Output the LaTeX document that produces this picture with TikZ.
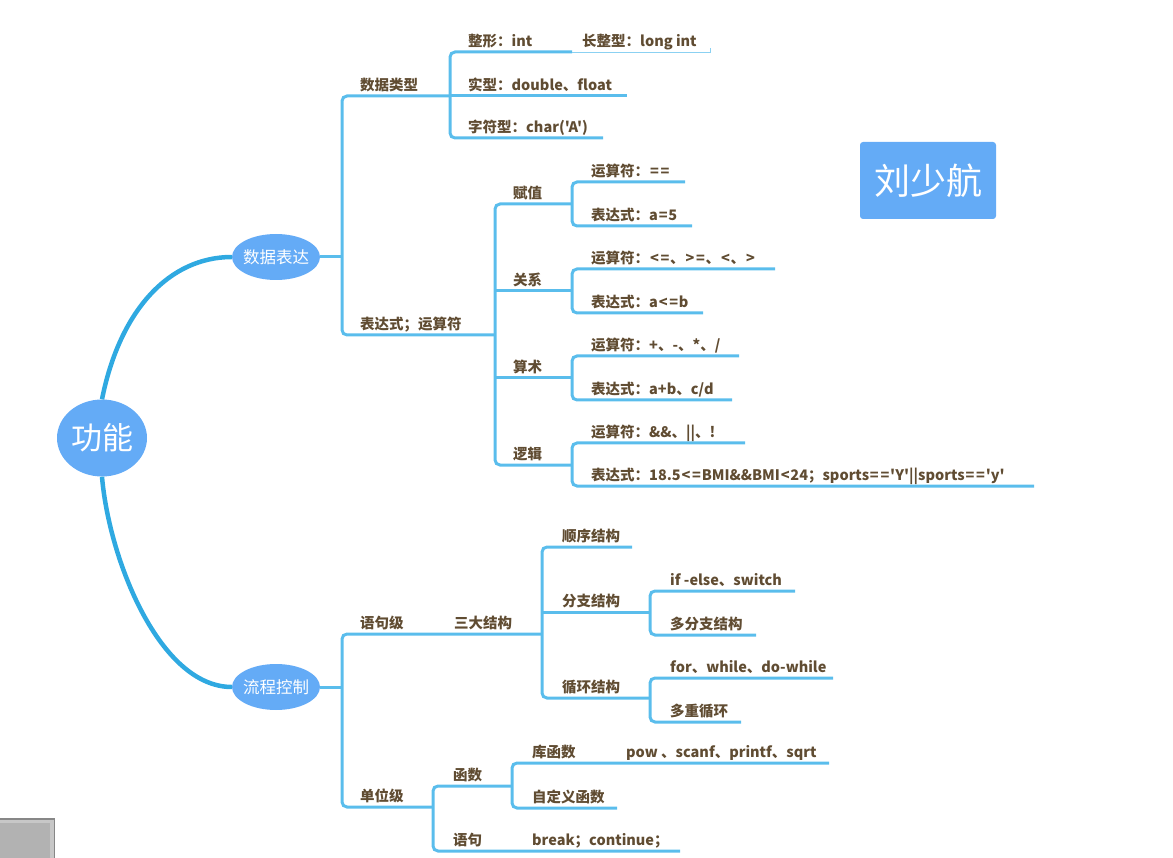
\documentclass[tikz,border=0pt]{standalone}
\usepackage{fontspec}
\newfontfamily\cjk{Noto Sans CJK SC}
\usetikzlibrary{shapes.geometric}
\definecolor{nodeblue}{RGB}{100,171,246}
\definecolor{lc}{RGB}{90,189,236}
\definecolor{rootc}{RGB}{47,169,225}
\definecolor{txtc}{RGB}{96,76,50}
\newcommand\wsy[1]{\makebox[10.5pt][c]{#1}}
\tikzset{
  lbl/.style={anchor=base west, inner sep=0pt, yshift=-1.5pt, text=txtc, font=\cjk\bfseries\fontsize{14.5}{16}\selectfont},
  br/.style={draw=lc, line width=3pt, rounded corners=5pt},
  thinbr/.style={draw=lc!70, line width=1pt},
  rootline/.style={draw=rootc, line width=4.5pt},
  bubble/.style={ellipse, fill=nodeblue, draw=none, inner sep=0pt},
  wtxt/.style={text=white, inner sep=0pt}
}
\begin{document}
\begin{tikzpicture}[x=1pt,y=-1pt]
\useasboundingbox (0,0) rectangle (1173,858);
% central nodes
\node[bubble, minimum width=90pt, minimum height=77pt] (root) at (102,438) {};
\node[wtxt, font=\cjk\fontsize{31}{34}\selectfont] (roott) at (root) {功能};
\node[bubble, minimum width=88pt, minimum height=46pt] (e1) at (276,257) {};
\node[wtxt, font=\cjk\fontsize{16.5}{18}\selectfont] (e1t) at (e1) {数据表达};
\node[bubble, minimum width=88pt, minimum height=46pt] (e2) at (276,687) {};
\node[wtxt, font=\cjk\fontsize{16.5}{18}\selectfont] (e2t) at (e2) {流程控制};
\draw[rootline] (root.north) .. controls +(18,-90) and +(-62,0) .. (e1.west);
\draw[rootline] (root.south) .. controls +(7,83) and +(-72,0) .. (e2.west);
% name box
\node[fill=nodeblue, rounded corners=3pt, minimum width=136pt, minimum height=77pt, inner sep=0pt, text=white, font=\cjk\fontsize{36}{40}\selectfont] (author) at (928,180.5) {刘少航};
% gray box
\fill[black!47] (0,818) rectangle (55,858);
\fill[black!22] (0,819.5) rectangle (53.5,858);
\fill[black!30] (0,823) rectangle (50,858);
% ---------- 数据表达 ----------
\coordinate (v1) at (342,257);
\draw[br] (e1.east) -- (v1);
\draw[br] (450,96) -- (342,96) -- (342,335) -- (495,335);
\node[lbl] (sjlx) at (360,89) {数据类型};
\node[lbl] (bds) at (360,328) {表达式；运算符};
% 数据类型 children
\draw[br] (572,52) -- (450,52) -- (450,138) -- (603,138);
\draw[br] (450,96) -- (627,96);
\draw[thinbr] (572,52.5) -- (710,52.5) -- (710,48);
\node[lbl] (zx) at (468,45) {整形：int};
\node[lbl] (czx) at (582,45) {长整型：long int};
\node[lbl] (sx) at (468,89) {实型：double、float};
\node[lbl] (zfx) at (468,131) {字符型：char('A')};
% 表达式 children
\draw[br] (572,204) -- (495,204) -- (495,465) -- (572,465);
\draw[br] (495,291) -- (572,291);
\draw[br] (495,378) -- (572,378);
\node[lbl] (fz) at (513,197) {赋值};
\node[lbl] (gx) at (513,284) {关系};
\node[lbl] (ss) at (513,371) {算术};
\node[lbl] (lj) at (513,458) {逻辑};
\draw[br] (685,182) -- (572,182) -- (572,226) -- (692,226);
\draw[br] (775,269) -- (572,269) -- (572,313) -- (703,313);
\draw[br] (739,356) -- (572,356) -- (572,400) -- (732,400);
\draw[br] (745,443) -- (572,443) -- (572,486) -- (1034,486);
\node[lbl] (fz1) at (591,175) {运算符：\wsy{=}\wsy{=}};
\node[lbl] (fz2) at (591,219) {表达式：a\wsy{=}5};
\node[lbl] (gx1) at (591,262) {运算符：\wsy{<}\wsy{=}、\wsy{>}\wsy{=}、\wsy{<}、\wsy{>}};
\node[lbl] (gx2) at (591,306) {表达式：a\wsy{<}\wsy{=}b};
\node[lbl] (ss1) at (591,349) {运算符：+、-、*、/};
\node[lbl] (ss2) at (591,393) {表达式：a+b、c/d};
\node[lbl] (lj1) at (591,436) {运算符：\&\&、||、!};
\node[lbl] (lj2) at (591,479) {表达式：18.5\wsy{<}\wsy{=}BMI\&\&BMI\wsy{<}24；sports\wsy{=}\wsy{=}'Y'||sports\wsy{=}\wsy{=}'y'};
% ---------- 流程控制 ----------
\coordinate (v2) at (342,687);
\draw[br] (e2.east) -- (v2);
\draw[br] (542,634) -- (342,634) -- (342,807) -- (433,807);
\node[lbl] (yjj) at (360,627) {语句级};
\node[lbl] (sdjg) at (454,627) {三大结构};
\node[lbl] (dwj) at (360,800) {单位级};
\draw[br] (632,547) -- (542,547) -- (542,698) -- (650,698);
\draw[br] (542,612) -- (650,612);
\node[lbl] (sxjg) at (562,540) {顺序结构};
\node[lbl] (fzjg) at (562,605) {分支结构};
\node[lbl] (xhjg) at (562,691) {循环结构};
\draw[br] (795,591) -- (650,591) -- (650,635) -- (756,635);
\draw[br] (833,678) -- (650,678) -- (650,722) -- (741,722);
\node[lbl] (ifel) at (670,584) {if -else、switch};
\node[lbl] (dfz) at (670,628) {多分支结构};
\node[lbl] (forw) at (670,671) {for、while、do-while};
\node[lbl] (dcxh) at (670,715) {多重循环};
\draw[br] (512,786) -- (433,786) -- (433,851) -- (680,851);
\draw[br] (829,763) -- (512,763) -- (512,808) -- (617,808);
\node[lbl] (hs) at (453,779) {函数};
\node[lbl] (yj) at (453,844) {语句};
\node[lbl] (khs) at (532,756) {库函数};
\node[lbl] (pow) at (626,756) {pow 、scanf、printf、sqrt};
\node[lbl] (zdy) at (532,801) {自定义函数};
\node[lbl] (brk) at (532,844) {break；continue；};
\end{tikzpicture}
\end{document}
